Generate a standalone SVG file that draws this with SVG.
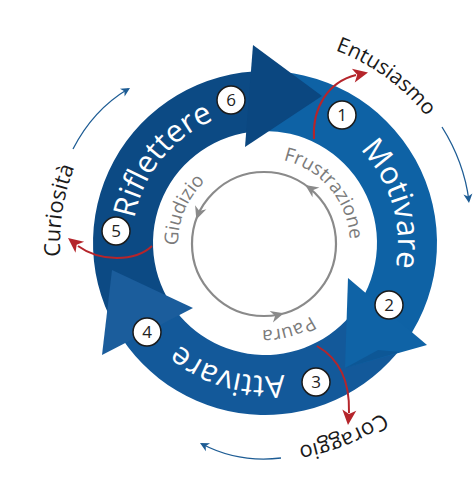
<svg xmlns="http://www.w3.org/2000/svg" width="474" height="490" viewBox="0 0 474 490">
<defs>
<style>
text{font-family:"Open Sans","Liberation Sans",sans-serif}
.ring{font-size:31px;fill:#fff}
.in{font-size:19px;fill:#7b7b7b}
.out{font-size:22px;fill:#1a1a1a}
.num{font-size:17px;fill:#222;text-anchor:middle}
.nc{fill:#fff;stroke:#1a1a1a;stroke-width:1.5}
.red{fill:none;stroke:#b5252b;stroke-width:2}
.blu{fill:none;stroke:#1d5c94;stroke-width:1.3}
.gray{fill:none;stroke:#8a8a8a;stroke-width:2.2}
</style>
<path id="pR" d="M140.83,290.66 A133,133 0 0 1 285.81,111.64"/>
<path id="pM" d="M294.92,113.41 A133,133 0 0 1 362.27,333.71"/>
<path id="pA" d="M357.39,338.67 A133,133 0 0 1 135.95,275.18"/>
<path id="pF" d="M249.07,159.31 A86,86 0 0 1 344.81,273.41"/>
<path id="pG" d="M195.32,295.76 A86,86 0 0 1 253.52,158.64"/>
<path id="pP" d="M347.45,264.81 A86,86 0 0 1 204.26,305.86"/>
<path id="pE" d="M181.62,55.72 A205,205 0 0 1 468.88,264.43"/>
<path id="pC" d="M135.99,402.31 A205,205 0 0 1 191.53,51.62"/>
<path id="pCo" d="M469,271.67 A206,206 0 0 1 138.17,405.33"/>
<path id="ga" d="M0,0 L-13,-6 L-9,0 L-13,6 Z" fill="#8a8a8a"/>
<path id="ra" d="M0,0 L-15,-7 L-11,0 L-15,7 Z" fill="#b5252b"/>
<path id="ba" d="M0,0 L-9,-4.5 L-6.5,0 L-9,4.5 Z" fill="#1d5c94"/>
</defs>
<rect width="474" height="490" fill="#fff"/>

<g id="ring-bands">
<path d="M120.75,336.68 A172,172 0 0 1 265,71 L265,131 A112,112 0 0 0 171.07,304 Z" fill="#0c4a84"/>
<path d="M256,71.24 A172,172 0 0 1 405.89,341.66 L356.74,307.24 A112,112 0 0 0 259.14,131.15 Z" fill="#0e62a5"/>
<path d="M409.25,336.68 A172,172 0 0 1 116.04,329 L168.01,299 A112,112 0 0 0 358.93,304 Z" fill="#13599a"/>
</g>

<g id="node-riflettere">
<polygon points="253,45 322,96 245,147" fill="#0b4780"/>
<text class="ring"><textPath href="#pR" startOffset="50%" text-anchor="middle">Riflettere</textPath></text>
<circle class="nc" cx="116" cy="231" r="14"/><text class="num" x="116" y="237">5</text>
<circle class="nc" cx="231" cy="100" r="14"/><text class="num" x="231" y="106">6</text>
</g>

<g id="node-motivare">
<polygon points="348,278 427,345 345,368" fill="#0f63a6"/>
<polygon points="345,368 400,352 378,350" fill="#0d5290" opacity="0.7"/>
<text class="ring"><textPath href="#pM" startOffset="50%" text-anchor="middle">Motivare</textPath></text>
<circle class="nc" cx="342" cy="115" r="14"/><text class="num" x="342" y="121">1</text>
<circle class="nc" cx="389" cy="305" r="14"/><text class="num" x="389" y="311">2</text>
</g>

<g id="node-attivare">
<polygon points="102,355 193,308 112,270" fill="#1b5d9c"/>
<text class="ring"><textPath href="#pA" startOffset="50%" text-anchor="middle">Attivare</textPath></text>
<circle class="nc" cx="316" cy="382" r="14"/><text class="num" x="316" y="388">3</text>
<circle class="nc" cx="147" cy="332" r="14"/><text class="num" x="147" y="338">4</text>
</g>

<g id="inner-cycle">
<circle class="gray" cx="264" cy="244" r="72"/>
<use href="#ga" transform="translate(305.3,185) rotate(-145)"/>
<use href="#ga" transform="translate(196.3,219.4) rotate(110)"/>
<use href="#ga" transform="translate(283.8,313.2) rotate(-16)"/>
<text class="in"><textPath href="#pF" startOffset="50%" text-anchor="middle">Frustrazione</textPath></text>
<text class="in"><textPath href="#pG" startOffset="50%" text-anchor="middle">Giudizio</textPath></text>
<text class="in"><textPath href="#pP" startOffset="50%" text-anchor="middle">Paura</textPath></text>
</g>

<g id="connectors">
<path class="red" d="M314,139 C312,108 328,82 356,75"/>
<use href="#ra" transform="translate(368,72.5) rotate(-12)"/>
<path class="red" d="M152,246 C135,262 100,262 78,246"/>
<use href="#ra" transform="translate(68,238) rotate(-142)"/>
<path class="red" d="M317,346 C338,358 350,380 349,413"/>
<use href="#ra" transform="translate(348,425) rotate(95)"/>
<path class="blu" d="M73,149 Q93,110 128,89"/>
<use href="#ba" transform="translate(130,88) rotate(-31)"/>
<path class="blu" d="M442,127 Q464,162 469,201"/>
<use href="#ba" transform="translate(469,203) rotate(83)"/>
<path class="blu" d="M281,458 Q238,463 202,444"/>
<use href="#ba" transform="translate(200,443) rotate(208)"/>
</g>

<g id="label-entusiasmo"><text class="out" style="font-size:21px"><textPath href="#pE" startOffset="50%" text-anchor="middle">Entusiasmo</textPath></text></g>
<g id="label-curiosita"><text class="out"><textPath href="#pC" startOffset="50%" text-anchor="middle">Curiosità</textPath></text></g>
<g id="label-coraggio"><text class="out"><textPath href="#pCo" startOffset="50%" text-anchor="middle">Coraggio</textPath></text></g>
</svg>
